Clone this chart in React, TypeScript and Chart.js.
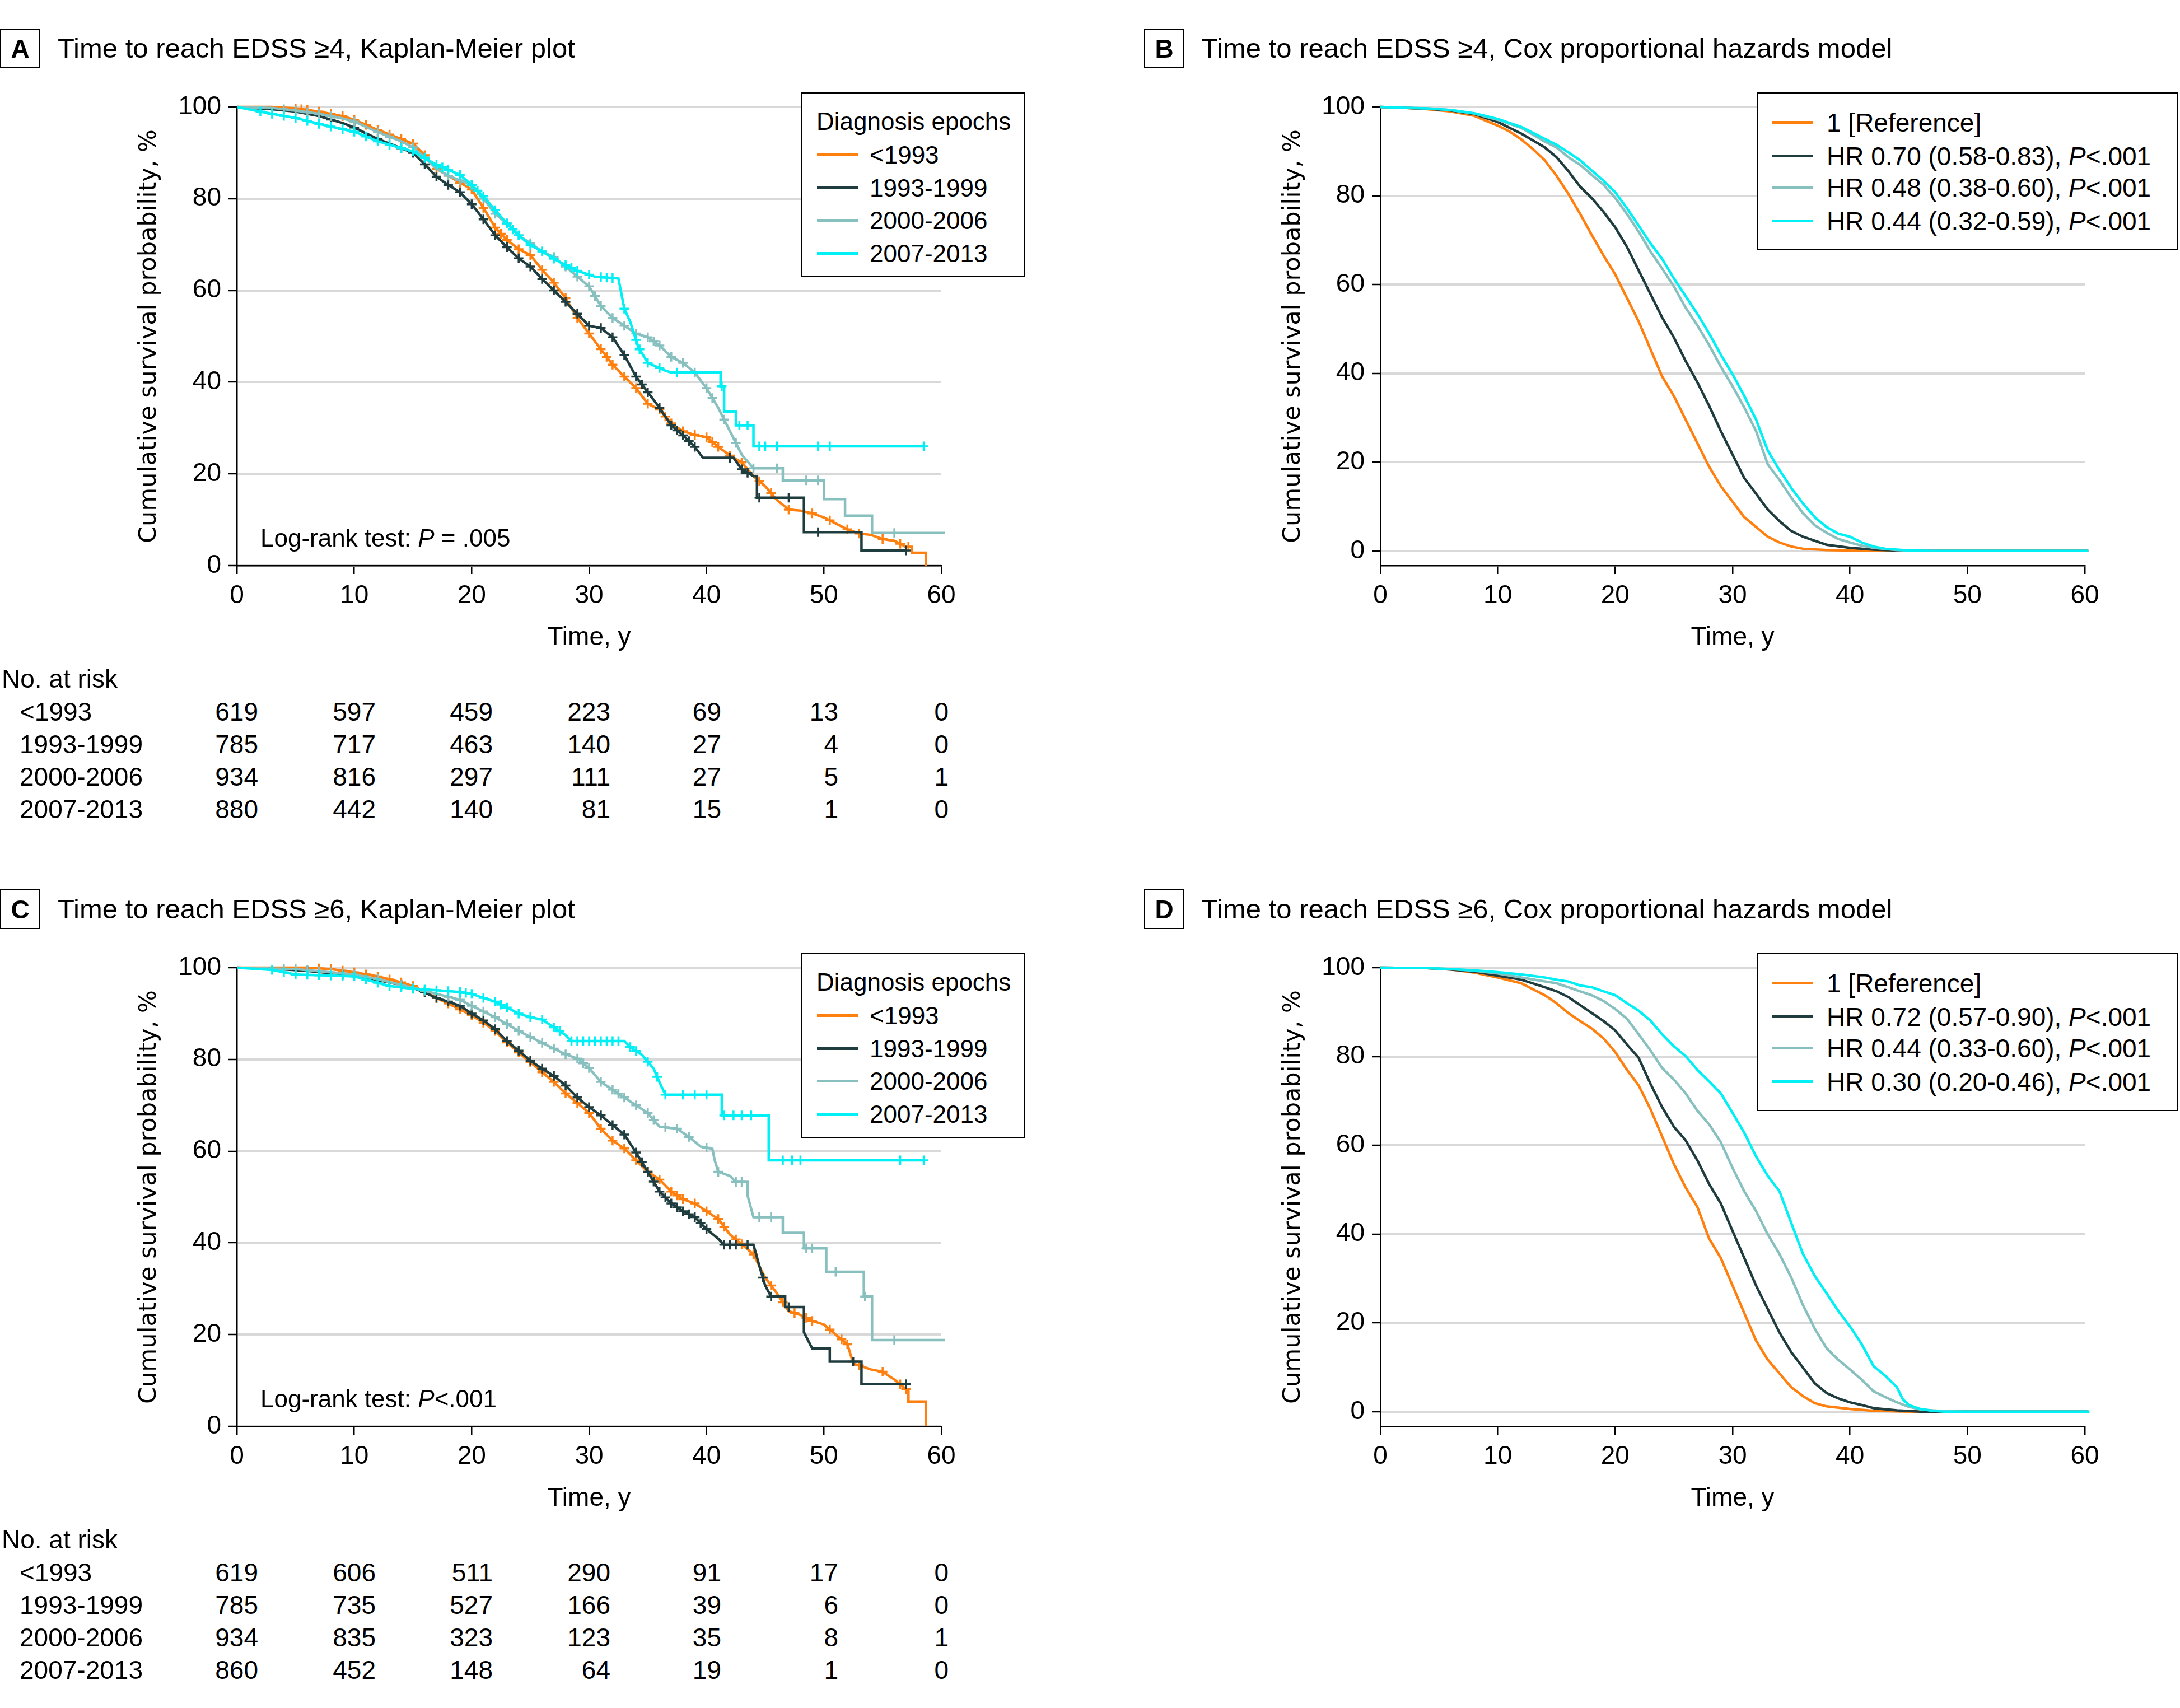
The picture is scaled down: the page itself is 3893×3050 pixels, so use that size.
import React, { useEffect, useRef } from 'react';
import { Chart, registerables } from 'chart.js';

Chart.register(...registerables);

const FONT = "'Liberation Sans', Arial, sans-serif";
const YFONT = "'DejaVu Sans', Verdana, sans-serif";

type Pt = [number, number];

// ---------- categories / labels ----------
const EPOCHS = ['<1993', '1993-1999', '2000-2006', '2007-2013'];
const COLORS = ['#ff7f0f', '#1f3d3e', '#87c0be', '#00f0f5'];
const DRAW_ORDER = [3, 2, 1, 0];
const X_TICKS = [0, 10, 20, 30, 40, 50, 60];
const Y_TICKS = [0, 20, 40, 60, 80, 100];
const HR_EDSS4 = ['HR 0.70 (0.58-0.83)', 'HR 0.48 (0.38-0.60)', 'HR 0.44 (0.32-0.59)'];
const HR_EDSS6 = ['HR 0.72 (0.57-0.90)', 'HR 0.44 (0.33-0.60)', 'HR 0.30 (0.20-0.46)'];

// ---------- No. at risk ----------
const RISK_A = [
  [619, 597, 459, 223, 69, 13, 0],
  [785, 717, 463, 140, 27, 4, 0],
  [934, 816, 297, 111, 27, 5, 1],
  [880, 442, 140, 81, 15, 1, 0],
];
const RISK_C = [
  [619, 606, 511, 290, 91, 17, 0],
  [785, 735, 527, 166, 39, 6, 0],
  [934, 835, 323, 123, 35, 8, 1],
  [860, 452, 148, 64, 19, 1, 0],
];

// ---------- Panel A: KM, EDSS >= 4 ----------
const A_LT1993: Pt[] = [[0,100],[3,100],[5,99.7],[7,99],[9,98],[10,97.2],[12,95],[14,93],[15,92],[16,89.5],[17,86.5],[18,85],[19,83.5],[20,82],[21,78],[22,73.7],[23,71],[24,69],[25,67.7],[26,64.5],[27,61.7],[28,58.3],[29,54],[30,50.6],[31,47.2],[32,43.8],[33,41.2],[34,38.7],[35,35.3],[36,34],[37,31],[38,29.3],[39,28.5],[40,28],[41,25.9],[42,24],[43,22.5],[44,19.5],[45,17.3],[46,14.3],[47,12.2],[48,12],[49,11.4],[50,10.5],[51,9.2],[52,7.9],[53,7],[54,6.7],[55,5.8],[56,5.4],[57,4.1],[57.5,4.1],[57.5,2.8],[58.7,2.8],[58.7,0]];
const A_1993: Pt[] = [[0,100],[3,99.5],[5,99],[7,98],[9,96.5],[10,95.5],[12,93],[14,91],[15,90],[16,87.5],[17,84.8],[18,83],[19,81.4],[20,78.8],[21,75.5],[22,72],[23,69.4],[24,67],[25,65.2],[26,62.5],[27,60],[28,57.5],[29,54.9],[30,52.3],[31,51.8],[32,49.8],[33,45.9],[34,41.2],[35,37.8],[36,34.4],[37,30.6],[38,28.4],[39,25.9],[39.7,23.5],[42.3,23.5],[43,21],[44,19.5],[44.3,19.5],[44.3,14.8],[48.3,14.8],[48.3,7.3],[53.2,7.3],[53.2,3.3],[57,3.3]];
const A_2000: Pt[] = [[0,100],[3,99.8],[5,99.2],[7,98.5],[9,97.5],[10,96.8],[12,94.5],[14,92.5],[15,91.2],[16,89],[17,86.5],[18,85],[19,84],[20,83],[21,80],[22,76.7],[23,74.6],[24,72],[25,70.3],[26,68.5],[27,67.3],[28,65.2],[29,63],[30,60.9],[31,56.6],[32,54],[33,52.3],[34,50.6],[35,49.8],[36,48],[37,45.5],[38,44.2],[39,42.1],[40,38.7],[41,34.4],[42,29.3],[43,24.2],[44,21.2],[46.5,21.2],[46.5,18.6],[50,18.6],[50,14.5],[51.8,14.5],[51.8,10.9],[54.1,10.9],[54.1,7.1],[60.3,7.1],[60.3,0]];
const A_2007: Pt[] = [[0,100],[2,99],[3,98.5],[5,97.6],[7,96.3],[10,94.6],[12,92.5],[15,90.3],[17,87.4],[19,85.2],[20,83],[21,80.5],[22,77.5],[23,74.6],[24,72],[25,69.9],[26,68.5],[27,66.9],[28,65.5],[29,64.3],[30.5,63],[32.5,62.6],[33,56],[33.5,53.2],[34.2,47.6],[35,44.2],[36.5,42.5],[37,42.1],[41.2,42.1],[41.2,39.1],[41.5,39.1],[41.5,33.6],[42.5,33.6],[42.5,30.6],[44,30.6],[44,26],[58.5,26]];
const A_CENS = [
  [5,5.5,6,7,8,9,10,11,12,13,14,15,16,17,18,19,20,21,22,22.5,23,24,25,26,27,28,29,30,31,31.5,32,33,34,35,36,36.5,37,38,39,40,40.5,41,42,43,44.5,45.5,47,49,50.5,52,53,55,56.5,57.2],
  [8,10,12,14,15,16,17,18,19,20,21,22,23,24,25,26,27,28,29,30,31,32,33,34,34.5,35,36,37,37.5,38,38.5,39,42,43,43.5,44.5,47,49.5,57],
  [4,5,6,7,8,10,12,13,15,16,18,19,20,21,22,23,24,25,26,27,28,29,30,30.5,31,32,33,34,35,35.5,36,37,38,39,40,40.5,41.5,42.5,44,46,48.5,49.5,56],
  [2,3,4,5,6,7,8,9,10,11,12,13,14,15,16,17,17.5,18,19,20,20.5,21,22,23,23.5,24,25,26,27,28,28.5,29,30,31,31.5,32,33,34,34.3,35,36,37.5,41.3,42.8,43.5,44.5,45,46,49.5,50.5,58.5],
];

// ---------- Panel B: Cox, EDSS >= 4 ----------
const B_REF: Pt[] = [[0,100],[2,99.8],[4,99.5],[6,99],[8,98],[10,95.8],[11,94.5],[12,92.7],[13,90.5],[14,88],[15,84.5],[16,80.5],[17,76],[18,71.2],[19,66.6],[20,62.3],[21,57],[22,51.7],[23,45.5],[24,39.3],[25,34.9],[26,29.6],[27,24.3],[28,19],[29,14.6],[30,11.1],[31,7.6],[32,5.4],[33,3.2],[34,1.9],[35,1],[36,0.5],[38,0.2],[40,0.1],[44,0],[60.3,0]];
const B_1993: Pt[] = [[0,100],[2,99.8],[4,99.6],[6,99.2],[8,98.4],[10,96.6],[12,94],[14,90.9],[15,88.7],[16,85.6],[17,82.1],[18,79.5],[19,76.4],[20,72.9],[21,68.5],[22,63.2],[23,57.9],[24,52.6],[25,48.1],[26,42.8],[27,38],[28,32.7],[29,27],[30,21.7],[31,16.4],[32,12.9],[33,9.3],[34,6.7],[35,4.5],[36,3.2],[37,2.3],[38,1.4],[40,0.7],[42,0.3],[45,0],[60.3,0]];
const B_2000: Pt[] = [[0,100],[2,99.8],[4,99.7],[6,99.3],[8,98.5],[10,97.1],[12,95.3],[14,92.2],[15,90.9],[16,88.7],[17,87],[18,84.7],[19,82.5],[20,79.5],[21,75.9],[22,71.9],[23,67.5],[24,63.6],[25,59.6],[26,54.8],[27,50.8],[28,46.4],[29,41.5],[30,37.1],[31,32.3],[32,27],[33,19.5],[34,16],[35,12],[36,8.5],[37,5.8],[38,4.1],[39,2.7],[40,1.9],[41,1.2],[42,0.7],[44,0.2],[46,0],[60.3,0]];
const B_2007: Pt[] = [[0,100],[2,99.8],[4,99.7],[6,99.3],[8,98.6],[10,97.3],[12,95.5],[14,92.8],[15,91.5],[16,89.8],[17,88],[18,85.7],[19,83.4],[20,80.8],[21,77.2],[22,73.3],[23,69.3],[24,65.8],[25,61.4],[26,57.4],[27,53.4],[28,49],[29,44.2],[30,39.8],[31,34.9],[32,29.6],[33,22.6],[34,18.2],[35,14.2],[36,10.7],[37,7.6],[38,5.4],[39,3.9],[40,3.2],[41,1.9],[42,1],[43,0.5],[45,0.1],[47,0],[60.3,0]];

// ---------- Panel C: KM, EDSS >= 6 ----------
const C_LT1993: Pt[] = [[0,100],[6,100],[8,99.7],[10,99],[12,98.1],[14,96.8],[15,96],[16,94.8],[17,93.4],[18,92.2],[19,90.9],[20,89.6],[21,88],[22,86.2],[23,83.7],[24,81.5],[25,79.4],[26,77.2],[27,75.1],[28,72.6],[29,70.5],[30,68.3],[31,64.9],[32,62.3],[33,60.6],[34,58],[35,55.5],[36,53.8],[37,51.2],[38,49.5],[39,48.6],[40,46.9],[41,45.2],[42,41.8],[43,39.7],[44,37.5],[45,32.4],[46,29],[47,25.1],[48,24.3],[49,23],[50,22.2],[51,20],[52,17.9],[52.5,13.7],[54,12.4],[55,11.9],[56,10.2],[57,8.1],[57.2,8.1],[57.2,5.4],[58.7,5.4],[58.7,0]];
const C_1993: Pt[] = [[0,100],[3,99.8],[6,99.3],[8,98.8],[10,98.1],[12,97.3],[14,96.2],[15,95.6],[16,94.6],[17,93.4],[18,92.6],[19,91.7],[20,90],[21,88.5],[22,86.6],[23,84],[24,81.9],[25,79.7],[26,78],[27,76.4],[28,74.3],[29,71.7],[30,69.6],[31,67.8],[32,65.7],[33,63.6],[34,59.7],[35,55.5],[36,51.2],[37,48.6],[38,46.9],[39,45.6],[40,43],[41,40.9],[41.5,39.6],[44,39.6],[44.5,35],[45,30.7],[45.5,28.3],[46.7,28.3],[46.7,26],[48.3,26],[48.3,20.5],[49,17],[50.5,17],[50.5,14.1],[53.2,14.1],[53.2,9.2],[57,9.2]];
const C_2000: Pt[] = [[0,100],[5,99.7],[8,99],[10,98.5],[12,97.5],[15,95.6],[17,94.3],[19,93],[20,91.7],[22,89.2],[24,86.2],[26,83.6],[28,81.1],[29,80.2],[30,78.1],[31,75.1],[32,73.4],[33,71.7],[34,70],[35,68.3],[36,65.3],[37.5,64.9],[38.5,63.1],[39.5,61],[40.5,60.5],[40.7,58],[41,55.5],[42,54.6],[42.5,53.3],[43.5,53.3],[43.5,50.3],[44,45.6],[46.5,45.6],[46.5,42.2],[48.3,42.2],[48.3,38.8],[50.2,38.8],[50.2,33.7],[53.4,33.7],[53.4,28.3],[54.1,28.3],[54.1,18.8],[60.3,18.8],[60.3,0]];
const C_2007: Pt[] = [[0,100],[3,99.5],[5,98.5],[8,98.3],[10,98.1],[13,96],[15,95.4],[17,95.1],[19,94.7],[20,94.3],[21,93.4],[22,92.6],[23,91.3],[24,90],[25,89.2],[26,88.7],[27,87],[28,85.3],[28.5,84],[33,84],[33.5,82.7],[34.5,81],[35.5,78],[36,75],[36.5,72.3],[41.3,72.3],[41.3,67.8],[45.3,67.8],[45.3,58],[58.5,58]];
const C_CENS = [
  [7,8,9,10,11,12,13,14,15,16,17,18,19,20,21,22,23,24,25,26,27,28,29,30,31,32,33,34,35,36,37,37.5,38,39,40,41,41.5,42.5,43,44,45.5,46.5,47.5,48.5,49,50.5,51.5,52,53,55,56.5,57],
  [6,9,12,14,15,16,17,18,19,20,21,22,23,24,25,26,27,28,29,30,31,32,33,34,34.5,35,35.5,36,36.5,37,37.5,38,38.5,39,39.5,40,41.5,42,42.5,43.5,44.8,45.5,47,52.5,57],
  [4,5,6,7,8,9,10,12,14,15,16,18,19,20,21,22,23,24,25,26,27,28,29,29.5,30,31,32,32.5,33,34,35,35.5,36.5,37.5,38.5,40,41,42.5,43,44.5,45.5,48.5,49,51,53.5,56],
  [3,4,5,6,7,8,9,10,11,12,13,14,15,16,17,18,19,19.5,20,21,22,22.5,23,24,25,26,27,27.5,28.5,29,29.5,30,30.5,31,31.5,32,32.5,33.5,34,35,35.8,36.5,38,39,40,41.5,42.3,43,43.8,46.5,47.3,48,56.5,58.5],
];

// ---------- Panel D: Cox, EDSS >= 6 ----------
const D_REF: Pt[] = [[0,100],[4,99.9],[6,99.6],[8,98.9],[10,97.8],[12,96.5],[14,93.8],[15,92],[16,89.8],[17,88],[18,86.3],[19,84.1],[20,81],[21,77],[22,73.5],[23,68.2],[24,62],[25,55.8],[26,50.5],[27,46.1],[28,39],[29,34.6],[30,28.4],[31,22.2],[32,16],[33,11.7],[34,8.6],[35,5.5],[36,3.5],[37,1.9],[38,1.2],[40,0.6],[42,0.2],[45,0],[60.3,0]];
const D_1993: Pt[] = [[0,100],[4,99.9],[6,99.6],[8,99.1],[10,98.2],[12,97.3],[14,95.6],[15,94.7],[16,93.4],[17,91.6],[18,89.8],[19,88],[20,85.9],[21,82.7],[22,79.7],[23,73.9],[24,68.6],[25,64.2],[26,61.1],[27,56.6],[28,51.3],[29,46.9],[30,40.7],[31,34.6],[32,28.4],[33,23.1],[34,17.8],[35,13.4],[36,9.9],[37,6.4],[38,4.2],[39,3],[40,2.1],[41,1.5],[42,0.8],[44,0.3],[46,0],[60.3,0]];
const D_2000: Pt[] = [[0,100],[4,99.9],[6,99.7],[8,99.3],[10,98.7],[12,97.8],[14,96.9],[15,96.5],[16,95.6],[17,94.7],[18,93.8],[19,92.5],[20,90.7],[21,88.5],[22,85],[23,81.4],[24,77.4],[25,74.8],[26,71.7],[27,67.8],[28,64.7],[29,60.7],[30,54.9],[31,49.6],[32,45.2],[33,39.9],[34,35.5],[35,30.2],[36,24],[37,18.7],[38,14.3],[39,11.7],[40,9.5],[41,7.2],[42,4.6],[43,3.3],[44,2.1],[45,1.1],[46,0.5],[48,0.1],[50,0],[60.3,0]];
const D_2007: Pt[] = [[0,100],[4,99.9],[6,99.7],[8,99.4],[10,99],[12,98.5],[14,97.8],[15,97.3],[16,96.9],[17,96],[18,95.6],[19,94.7],[20,93.8],[21,92],[22,90.3],[23,88.1],[24,85],[25,82.3],[26,80.1],[27,77],[28,74.4],[29,71.7],[30,67.3],[31,62.8],[32,57.5],[33,53.1],[34,49.6],[35,42.5],[36,35.5],[37,30.6],[38,26.7],[39,22.7],[40,19.2],[41,15.2],[42,10.3],[43,8.1],[44,5.5],[44.5,2.8],[45,1.5],[46,0.6],[47,0.2],[48,0],[60.4,0]];

// ---------- helpers ----------
function valueOnCurve(pts: Pt[], t: number): number {
  for (let i = 0; i < pts.length - 1; i++) {
    const [x0, y0] = pts[i];
    const [x1, y1] = pts[i + 1];
    if (x1 === x0) continue;
    if (t >= x0 && t <= x1) return y0 + ((y1 - y0) * (t - x0)) / (x1 - x0);
  }
  return pts[pts.length - 1][1];
}

type ChartProps = {
  left: number; top: number; w: number; h: number;
  areaL: number; areaR: number; areaT: number; areaB: number;
  yMin: number; yTitleX: number;
  lines: Pt[][]; censors?: number[][]; lineWidth: number;
};

const X_AXIS_H = 152;

function SurvChart(p: ChartProps) {
  const ref = useRef<HTMLCanvasElement>(null);
  useEffect(() => {
    const canvas = ref.current;
    if (!canvas) return;
    const datasets: any[] = [];
    p.lines.forEach((pts, i) => {
      datasets.push({
        type: 'line',
        data: pts.map(([x, y]) => ({ x, y })),
        borderColor: COLORS[i],
        backgroundColor: COLORS[i],
        borderWidth: p.lineWidth,
        pointRadius: 0,
        pointHoverRadius: 0,
        tension: 0,
        fill: false,
        clip: false,
        order: DRAW_ORDER[i],
      });
      if (p.censors) {
        datasets.push({
          type: 'line',
          showLine: false,
          data: p.censors[i].map((t) => ({ x: t, y: valueOnCurve(pts, t) })),
          borderColor: COLORS[i],
          backgroundColor: COLORS[i],
          pointStyle: 'cross',
          pointRadius: 8.5,
          pointBorderWidth: 3.5,
          borderWidth: 3.5,
          clip: false,
          order: DRAW_ORDER[i],
        });
      }
    });
    const tickFont = { family: FONT, size: 46, lineHeight: 1 };
    const chart = new Chart(canvas, {
      type: 'line',
      data: { datasets },
      options: {
        animation: false,
        responsive: false,
        devicePixelRatio: 1,
        events: [],
        layout: {
          padding: { left: 0, top: p.areaT, right: p.w - p.areaR, bottom: p.h - p.areaB - X_AXIS_H },
        },
        plugins: { legend: { display: false }, tooltip: { enabled: false } },
        scales: {
          x: {
            type: 'linear',
            min: 0,
            max: 60,
            afterBuildTicks: (s: any) => { s.ticks = X_TICKS.map((v) => ({ value: v })); },
            afterFit: (s: any) => { s.height = X_AXIS_H; },
            ticks: { font: tickFont, color: '#000', padding: 16, maxRotation: 0, autoSkip: false },
            grid: { drawOnChartArea: false, drawTicks: true, tickLength: 15, tickColor: '#000', tickWidth: 2.5, lineWidth: 2.5, color: '#000' },
            border: { display: true, color: '#000', width: 2.5 },
            title: { display: true, text: 'Time, y', color: '#000', font: { family: FONT, size: 46, lineHeight: 1 }, padding: { top: 0, bottom: 0 } },
          },
          y: {
            type: 'linear',
            min: p.yMin,
            max: 100,
            afterBuildTicks: (s: any) => { s.ticks = Y_TICKS.map((v) => ({ value: v })); },
            afterFit: (s: any) => { s.width = p.areaL; },
            ticks: { font: tickFont, color: '#000', padding: 13, autoSkip: false },
            grid: { drawOnChartArea: true, drawTicks: true, tickLength: 15, color: '#d9d9d9', lineWidth: 4, tickColor: '#000', tickWidth: 2.5 },
            border: { display: true, color: '#000', width: 2.5 },
            title: {
              display: true,
              text: 'Cumulative survival probability, %',
              color: '#000',
              font: { family: YFONT, size: 43, lineHeight: 1.2 },
              padding: { top: p.yTitleX - 25.8, bottom: 0 },
            },
          },
        },
      } as any,
    });
    return () => chart.destroy();
  }, []);
  return (
    <canvas
      ref={ref}
      width={p.w}
      height={p.h}
      style={{ position: 'absolute', left: p.left, top: p.top, width: p.w, height: p.h }}
    />
  );
}

function T(props: { x: number; y: number; size: number; children: any; align?: 'left' | 'right' | 'center'; bold?: boolean }) {
  const { x, y, size, children, align = 'left', bold = false } = props;
  const style: any = {
    position: 'absolute',
    left: x,
    top: y - 0.8465 * size,
    fontSize: size,
    lineHeight: `${size}px`,
    fontFamily: FONT,
    fontWeight: bold ? 700 : 400,
    whiteSpace: 'nowrap',
    color: '#000',
  };
  if (align === 'right') style.transform = 'translateX(-100%)';
  if (align === 'center') style.transform = 'translateX(-50%)';
  return <div style={style}>{children}</div>;
}

function PanelTitle({ boxLeft, textLeft, dy, letter, text }: { boxLeft: number; textLeft: number; dy: number; letter: string; text: string }) {
  return (
    <>
      <div style={{ position: 'absolute', left: boxLeft, top: 51 + dy, width: 72, height: 71, border: '2.5px solid #000', boxSizing: 'border-box' }} />
      <T x={boxLeft + 36} y={103 + dy} size={46} bold align="center">{letter}</T>
      <T x={textLeft} y={103 + dy} size={49}>{text}</T>
    </>
  );
}

function LegendKM({ dy }: { dy: number }) {
  const rows = [276, 335, 393, 452];
  return (
    <>
      <div style={{ position: 'absolute', left: 1431, top: 165 + dy, width: 400, height: 330, border: '2.5px solid #000', boxSizing: 'border-box', background: '#fff' }} />
      <T x={1458} y={232 + dy} size={44}>Diagnosis epochs</T>
      {EPOCHS.map((lab, i) => (
        <React.Fragment key={lab}>
          <div style={{ position: 'absolute', left: 1459, top: rows[i] + dy - 2.5, width: 73, height: 5, background: COLORS[i] }} />
          <T x={1553} y={rows[i] + dy + 16} size={44}>{lab}</T>
        </React.Fragment>
      ))}
    </>
  );
}

function LegendCox({ dy, hrs }: { dy: number; hrs: string[] }) {
  const rows = [218, 278, 334, 394];
  const labels: any[] = [
    '1 [Reference]',
    ...hrs.map((h) => (<>{h}, <i>P</i>&lt;.001</>)),
  ];
  return (
    <>
      <div style={{ position: 'absolute', left: 3137, top: 165 + dy, width: 753, height: 282, border: '2.5px solid #000', boxSizing: 'border-box', background: '#fff' }} />
      {labels.map((lab, i) => (
        <React.Fragment key={i}>
          <div style={{ position: 'absolute', left: 3165, top: rows[i] + dy - 2.5, width: 73, height: 5, background: COLORS[i] }} />
          <T x={3262} y={rows[i] + dy + 16.5} size={46}>{lab}</T>
        </React.Fragment>
      ))}
    </>
  );
}

const RISK_COL_RIGHT = [461, 671, 880, 1090, 1288, 1497, 1694];

function RiskTable({ dy, data }: { dy: number; data: number[][] }) {
  const rows = [1287, 1345, 1403, 1461];
  return (
    <>
      <T x={3} y={1228 + dy} size={46}>No. at risk</T>
      {data.map((row, r) => (
        <React.Fragment key={r}>
          <T x={35} y={rows[r] + dy} size={46}>{EPOCHS[r]}</T>
          {row.map((v, c) => (
            <T key={c} x={RISK_COL_RIGHT[c]} y={rows[r] + dy} size={46} align="right">{v}</T>
          ))}
        </React.Fragment>
      ))}
    </>
  );
}

const DY = 1537;

export default function App() {
  const kmBase = { left: 0, w: 1800, h: 1100, areaL: 423, areaR: 1681, areaT: 91, areaB: 910, yMin: 0, yTitleX: 267, lineWidth: 4.5 };
  const coxBase = { left: 1950, w: 1943, h: 1100, areaL: 515, areaR: 1773, areaT: 91, areaB: 910, yMin: -3.3, yTitleX: 360, lineWidth: 4.5 };
  return (
    <div style={{ position: 'absolute', left: 0, top: 0, width: 3893, height: 3050, background: '#fff', overflow: 'hidden', fontFamily: FONT }}>
      <SurvChart {...kmBase} top={100} lines={[A_LT1993, A_1993, A_2000, A_2007]} censors={A_CENS} />
      <SurvChart {...coxBase} top={100} lines={[B_REF, B_1993, B_2000, B_2007]} />
      <SurvChart {...kmBase} top={100 + DY} lines={[C_LT1993, C_1993, C_2000, C_2007]} censors={C_CENS} />
      <SurvChart {...coxBase} top={100 + DY} lines={[D_REF, D_1993, D_2000, D_2007]} />

      <PanelTitle boxLeft={0} textLeft={103} dy={0} letter="A" text="Time to reach EDSS ≥4, Kaplan-Meier plot" />
      <PanelTitle boxLeft={2043} textLeft={2145} dy={0} letter="B" text="Time to reach EDSS ≥4, Cox proportional hazards model" />
      <PanelTitle boxLeft={0} textLeft={103} dy={DY} letter="C" text="Time to reach EDSS ≥6, Kaplan-Meier plot" />
      <PanelTitle boxLeft={2043} textLeft={2145} dy={DY} letter="D" text="Time to reach EDSS ≥6, Cox proportional hazards model" />

      <LegendKM dy={0} />
      <LegendKM dy={DY} />
      <LegendCox dy={0} hrs={HR_EDSS4} />
      <LegendCox dy={DY} hrs={HR_EDSS6} />

      <T x={465} y={976} size={44}>Log-rank test: <i>P</i> = .005</T>
      <T x={465} y={976 + DY} size={44}>Log-rank test: <i>P</i>&lt;.001</T>

      <RiskTable dy={0} data={RISK_A} />
      <RiskTable dy={DY} data={RISK_C} />
    </div>
  );
}
